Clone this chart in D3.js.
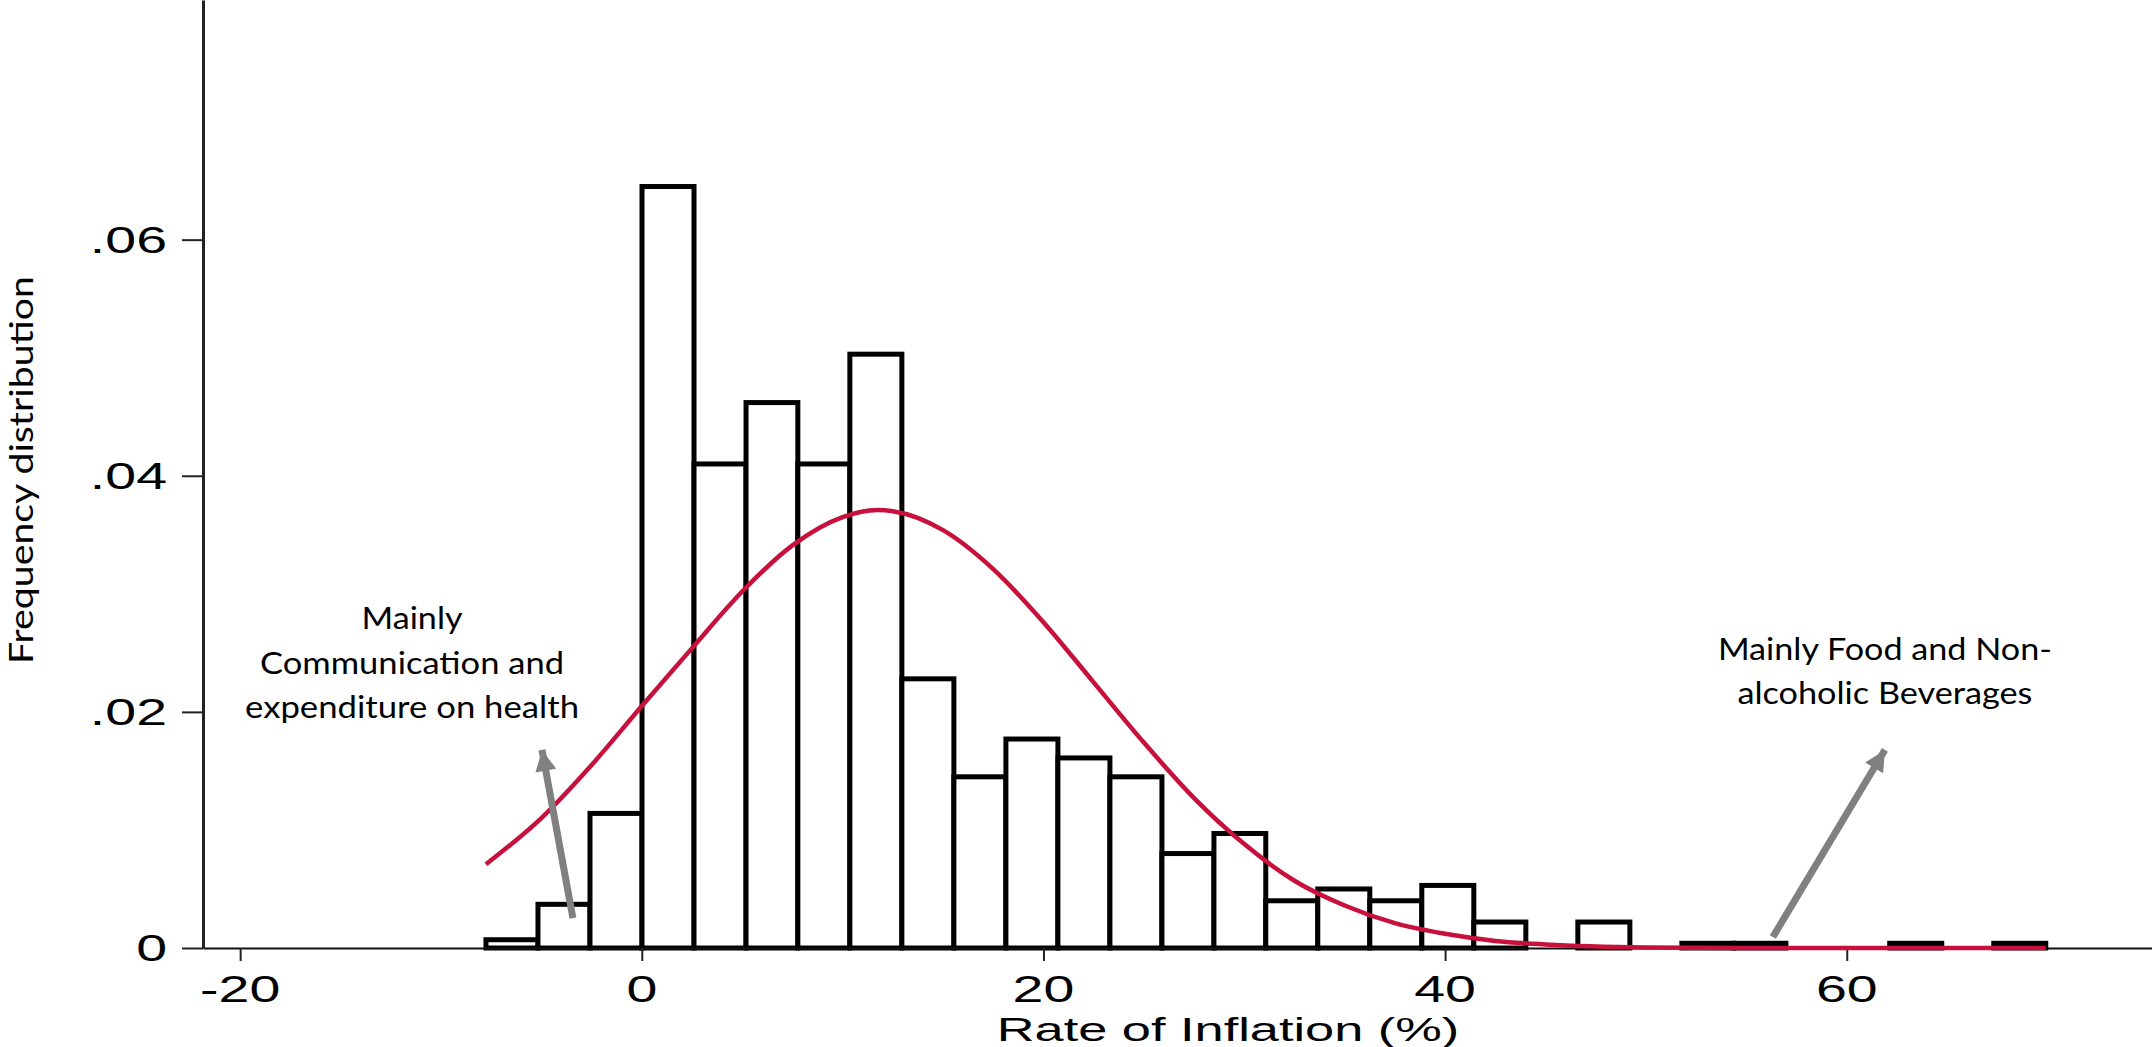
<!DOCTYPE html>
<html>
<head>
<meta charset="utf-8">
<script src="https://cdn.jsdelivr.net/npm/d3@7"></script>
<style>
  html, body { margin: 0; padding: 0; background: #fff; }
  svg { display: block; }
</style>
</head>
<body>
<div id="chart"></div>
<script>
// Histogram bins (rate of inflation, %), 30 equal-width bins
const binEdges = [-7.76, -5.17, -2.58, 0.01, 2.60, 5.19, 7.77, 10.36, 12.95, 15.54,
    18.13, 20.72, 23.31, 25.90, 28.49, 31.07, 33.66, 36.25, 38.84, 41.43,
    44.02, 46.61, 49.20, 51.79, 54.38, 56.97, 59.55, 62.14, 64.73, 67.32, 69.91];

// Density of each bin
const binDensity = [0.0007, 0.0037, 0.0114, 0.0645, 0.0410, 0.0462, 0.0410, 0.0503, 0.0228, 0.0145,
    0.0177, 0.0161, 0.0145, 0.0080, 0.0097, 0.0040, 0.0050, 0.0040, 0.0053, 0.0022,
    0, 0.0022, 0, 0.0004, 0.0004, 0, 0, 0.0004, 0, 0.0004];

// Normal density overlay
const curveX = [-7.76, -5, -2.5, 0, 2.5, 5, 7.5, 10, 11.75, 12.5, 15, 17.5, 20, 22.5, 25,
    27.5, 30, 32.5, 35, 37.5, 40, 42.5, 45, 50, 55, 69.91];
const curveY = [0.0071, 0.0110, 0.0155, 0.0205, 0.0254, 0.0302, 0.0341, 0.0365, 0.0371, 0.0370, 0.0354, 0.0321, 0.0276, 0.0225, 0.0174,
    0.0127, 0.0088, 0.0057, 0.0036, 0.0021, 0.0012, 0.0006, 0.0003, 0.00005, 0, 0];

const xTicks = [-20, 0, 20, 40, 60];
const yTicks = [0, 0.02, 0.04, 0.06];
const yTickLabels = ["0", ".02", ".04", ".06"];

// Text annotations added on top of the graph
const notes = [
    { x: -11.44, y: 0.0270, lines: ["Mainly", "Communication and", "expenditure on health"], widths: [101, 304, 334] },
    { x: 61.9, y: 0.0244, lines: ["Mainly Food and Non-", "alcoholic Beverages"], widths: [334, 295] }
];
const arrows = [
    { x1: -3.43, y1: 0.00254, x2: -4.97, y2: 0.01678 },
    { x1: 56.32, y1: 0.00093, x2: 61.9, y2: 0.01678 }
];

const W = 2152, H = 1047;
const plotLeft = 203, plotRight = 2152, plotBottom = 948;

const svg = d3.select("#chart").append("svg")
    .attr("width", W)
    .attr("height", H);

const x = d3.scaleLinear()
    .domain([-21.85, 75.2])
    .range([plotLeft, plotRight]);

const y = d3.scaleLinear()
    .domain([0, 0.0803])
    .range([plotBottom, 0]);

// Bars
const bins = binDensity.map((d, i) => ({ x0: binEdges[i], x1: binEdges[i + 1], d: d }))
    .filter(b => b.d > 0);

svg.append("g")
    .selectAll("rect")
    .data(bins)
    .join("rect")
    .attr("x", b => x(b.x0))
    .attr("y", b => y(b.d))
    .attr("width", b => x(b.x1) - x(b.x0))
    .attr("height", b => y(0) - y(b.d))
    .attr("fill", "#fff")
    .attr("stroke", "#000")
    .attr("stroke-width", 5);

// Axes
const xAxis = d3.axisBottom(x)
    .tickValues(xTicks)
    .tickSize(13)
    .tickSizeOuter(0)
    .tickFormat("");

const gx = svg.append("g")
    .attr("transform", `translate(0,${plotBottom})`)
    .call(xAxis);
gx.select(".domain").attr("stroke", "#111").attr("stroke-width", 2);
gx.selectAll(".tick line").attr("stroke", "#222").attr("stroke-width", 2);

const yAxis = d3.axisLeft(y)
    .tickValues(yTicks)
    .tickSize(21)
    .tickSizeOuter(0)
    .tickFormat("");

const gy = svg.append("g")
    .attr("transform", `translate(${plotLeft},0)`)
    .call(yAxis);
gy.select(".domain").attr("stroke", "#222").attr("stroke-width", 3);
gy.selectAll(".tick line").attr("stroke", "#222").attr("stroke-width", 2);

// Tick labels (Stata text is stretched sideways)
svg.append("g")
    .selectAll("text")
    .data(xTicks)
    .join("text")
    .attr("transform", d => `translate(${x(d)},1002) scale(1.5,1)`)
    .attr("text-anchor", "middle")
    .attr("font-family", "Liberation Sans, Arial, sans-serif")
    .attr("font-size", "37px")
    .attr("fill", "#000")
    .text(d => d);

svg.append("g")
    .selectAll("text")
    .data(yTicks)
    .join("text")
    .attr("transform", d => `translate(167,${y(d) + 13}) scale(1.5,1)`)
    .attr("text-anchor", "end")
    .attr("font-family", "Liberation Sans, Arial, sans-serif")
    .attr("font-size", "37px")
    .attr("fill", "#000")
    .text((d, i) => yTickLabels[i]);

// Axis titles
svg.append("text")
    .attr("transform", "translate(1228,1041) scale(1.54,1)")
    .attr("text-anchor", "middle")
    .attr("font-family", "Liberation Sans, Arial, sans-serif")
    .attr("font-size", "34px")
    .attr("fill", "#000")
    .text("Rate of Inflation (%)");

svg.append("text")
    .attr("transform", "translate(33,470) rotate(-90)")
    .attr("text-anchor", "middle")
    .attr("font-family", "Lato, sans-serif")
    .attr("font-size", "32px")
    .attr("fill", "#000")
    .attr("textLength", 388)
    .attr("lengthAdjust", "spacingAndGlyphs")
    .text("Frequency distribution");

// Normal density curve
const line = d3.line()
    .x(d => x(d[0]))
    .y(d => y(d[1]))
    .curve(d3.curveMonotoneX);

svg.append("path")
    .datum(curveX.map((v, i) => [v, curveY[i]]))
    .attr("d", line)
    .attr("fill", "none")
    .attr("stroke", "#c8103c")
    .attr("stroke-width", 4.5);

// Annotations
notes.forEach(n => {
    n.lines.forEach((t, i) => {
        svg.append("text")
            .attr("x", x(n.x))
            .attr("y", y(n.y) + i * 44.5)
            .attr("text-anchor", "middle")
            .attr("font-family", "Lato, sans-serif")
            .attr("font-size", "31px")
            .attr("fill", "#000")
            .attr("textLength", n.widths[i])
            .attr("lengthAdjust", "spacingAndGlyphs")
            .text(t);
    });
});

svg.append("defs").append("marker")
    .attr("id", "head")
    .attr("markerUnits", "userSpaceOnUse")
    .attr("viewBox", "0 0 10 10")
    .attr("refX", 10)
    .attr("refY", 5)
    .attr("markerWidth", 23)
    .attr("markerHeight", 21)
    .attr("orient", "auto")
    .append("path")
    .attr("d", "M0,0 L10,5 L0,10 Z")
    .attr("fill", "#808080");

svg.append("g")
    .selectAll("line")
    .data(arrows)
    .join("line")
    .attr("x1", a => x(a.x1))
    .attr("y1", a => y(a.y1))
    .attr("x2", a => x(a.x2))
    .attr("y2", a => y(a.y2))
    .attr("stroke", "#808080")
    .attr("stroke-width", 7)
    .attr("marker-end", "url(#head)");
</script>
</body>
</html>
